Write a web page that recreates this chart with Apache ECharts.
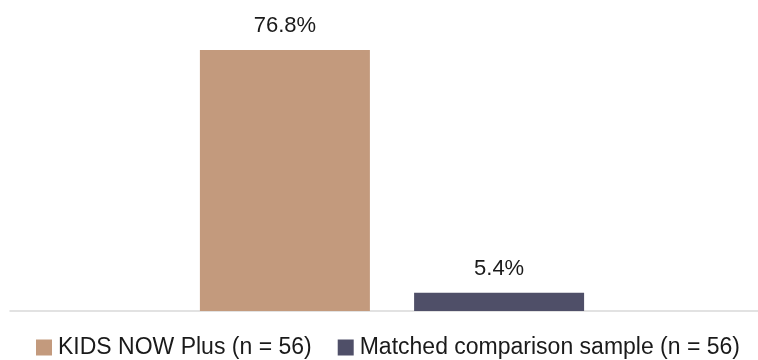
<!DOCTYPE html>
<html><head><meta charset="utf-8">
<script src="https://cdn.jsdelivr.net/npm/echarts@6/dist/echarts.min.js"></script>
<style>html,body{margin:0;padding:0;background:#fff}#c{width:758px;height:360px}</style>
</head><body><div id="c"></div>
<script>
const categories = [''];
const seriesNames = ['KIDS NOW Plus (n = 56)', 'Matched comparison sample (n = 56)'];
const kidsNowPlus = [76.8];
const matchedSample = [5.4];
const colors = ['#C39A7D', '#4F4F68'];
const FONT = 'Liberation Sans';

const chart = echarts.init(document.getElementById('c'), null, {renderer: 'canvas'});
const mk = (name, data, color) => ({
  name, type: 'bar', data, barWidth: 170, barGap: '26%',
  xAxisIndex: 0, yAxisIndex: 0,
  itemStyle: {color},
  label: {show: true, position: 'top', distance: 13, formatter: p => p.value.toFixed(1) + '%',
    color: '#1a1a1a', fontSize: 22, fontFamily: FONT}
});
chart.setOption({
  animation: false,
  textStyle: {fontFamily: FONT},
  grid: [
    {left: 26, right: 0, top: 39, bottom: 49, containLabel: false},
    {left: 10, right: 0, top: 39, bottom: 49, containLabel: false}
  ],
  xAxis: [
    {gridIndex: 0, type: 'category', data: categories, axisLine: {show: false},
      axisTick: {show: false}, axisLabel: {show: false}},
    {gridIndex: 1, type: 'category', data: categories, axisLine: {lineStyle: {color: '#D9D9D9', width: 1.5}},
      axisTick: {show: false}, axisLabel: {show: false}}
  ],
  yAxis: [
    {gridIndex: 0, type: 'value', min: 0, max: 80, show: false, splitLine: {show: false}},
    {gridIndex: 1, type: 'value', min: 0, max: 80, show: false, splitLine: {show: false}}
  ],
  legend: {left: 36, top: 336, padding: 0, itemWidth: 16, itemHeight: 16, itemGap: 26, icon: 'rect',
    textStyle: {fontSize: 23, color: '#1a1a1a', fontFamily: FONT, padding: [0, 0, 0, 1]},
    data: seriesNames},
  series: [mk(seriesNames[0], kidsNowPlus, colors[0]), mk(seriesNames[1], matchedSample, colors[1])]
});
</script></body></html>
